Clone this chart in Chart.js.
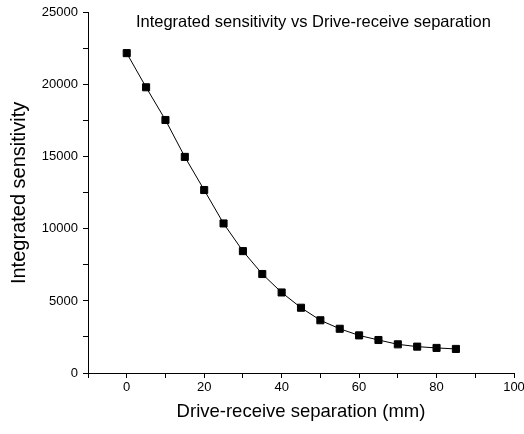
<!DOCTYPE html>
<html>
<head>
<meta charset="utf-8">
<script src="https://cdn.jsdelivr.net/npm/chart.js@4/dist/chart.umd.min.js"></script>
<style>
  html, body { margin: 0; padding: 0; background: #fff; }
  #wrap { width: 524px; height: 434px; }
</style>
</head>
<body>
<div id="wrap"><canvas id="chartSensitivity"></canvas></div>
<script>
    'use strict';

    var separationMm = [0, 5, 10, 15, 20, 25, 30, 35, 40, 45, 50, 55, 60, 65, 70, 75, 80, 85];
    var sensitivity = [22200, 19830, 17560, 15000, 12700, 10380, 8460, 6870, 5590, 4530, 3660, 3070, 2610, 2290, 1990, 1830, 1740, 1670];
    var xLabelTicks = [0, 20, 40, 60, 80, 100];
    var yLabelTicks = [0, 5000, 10000, 15000, 20000, 25000];

    var chartTitle = 'Integrated sensitivity vs Drive-receive separation';
    var font = 'Liberation Sans, Arial, sans-serif';

    Chart.defaults.font.family = font;
    Chart.defaults.color = '#000';

    // title sits inside the plot area, not above it
    var titleInside = {
        id: 'titleInside',
        afterDraw: function (chart) {
            var ctx = chart.ctx;
            var area = chart.chartArea;
            ctx.save();
            ctx.font = '16.5px ' + font;
            ctx.fillStyle = '#000';
            ctx.textAlign = 'center';
            ctx.textBaseline = 'middle';
            ctx.fillText(chartTitle, area.left + (area.right - area.left) * 0.529, area.top + 10);
            ctx.restore();
        }
    };

    var points = separationMm.map(function (x, i) { return { x: x, y: sensitivity[i] }; });

    new Chart(document.getElementById('chartSensitivity'), {
        type: 'scatter',
        data: {
            datasets: [{
                data: points,
                showLine: true,
                borderColor: '#000',
                borderWidth: 1,
                pointStyle: 'rect',
                pointRadius: 5,
                pointBorderWidth: 1,
                pointBackgroundColor: '#000',
                pointBorderColor: '#000',
            }],
        },
        options: {
            responsive: true,
            maintainAspectRatio: false,
            animation: false,
            layout: { padding: { top: 9, right: 10, left: 0, bottom: 0 } },
            plugins: {
                legend: { display: false },
                tooltip: { enabled: false },
            },
            scales: {
                x: {
                    type: 'linear',
                    min: -10,
                    max: 100,
                    // let the "100" label run off the edge like the original
                    afterFit: function (s) { s.height = 61; s.paddingRight = 0; },
                    border: { display: true, color: '#000', width: 1 },
                    grid: { drawOnChartArea: false, tickLength: 5, tickColor: '#000' },
                    ticks: {
                        stepSize: 10,
                        padding: 2,
                        maxRotation: 0,
                        font: { size: 13 },
                        callback: function (v) { return xLabelTicks.indexOf(v) >= 0 ? String(v) : ''; },
                    },
                    title: {
                        display: true,
                        text: 'Drive-receive separation (mm)',
                        font: { size: 18.5 },
                        padding: { top: 0, bottom: 11 },
                    },
                },
                y: {
                    min: 0,
                    max: 25000,
                    afterFit: function (s) { s.width = 88; },
                    border: { display: true, color: '#000', width: 1 },
                    grid: { drawOnChartArea: false, tickLength: 5, tickColor: '#000' },
                    ticks: {
                        stepSize: 2500,
                        padding: 5,
                        font: { size: 13 },
                        callback: function (v) { return yLabelTicks.indexOf(v) >= 0 ? String(v) : ''; },
                    },
                    title: {
                        display: true,
                        text: 'Integrated sensitivity',
                        font: { size: 20 },
                        padding: { top: 7, bottom: 0 },
                    },
                },
            },
        },
        plugins: [titleInside],
    });
</script>
</body>
</html>
